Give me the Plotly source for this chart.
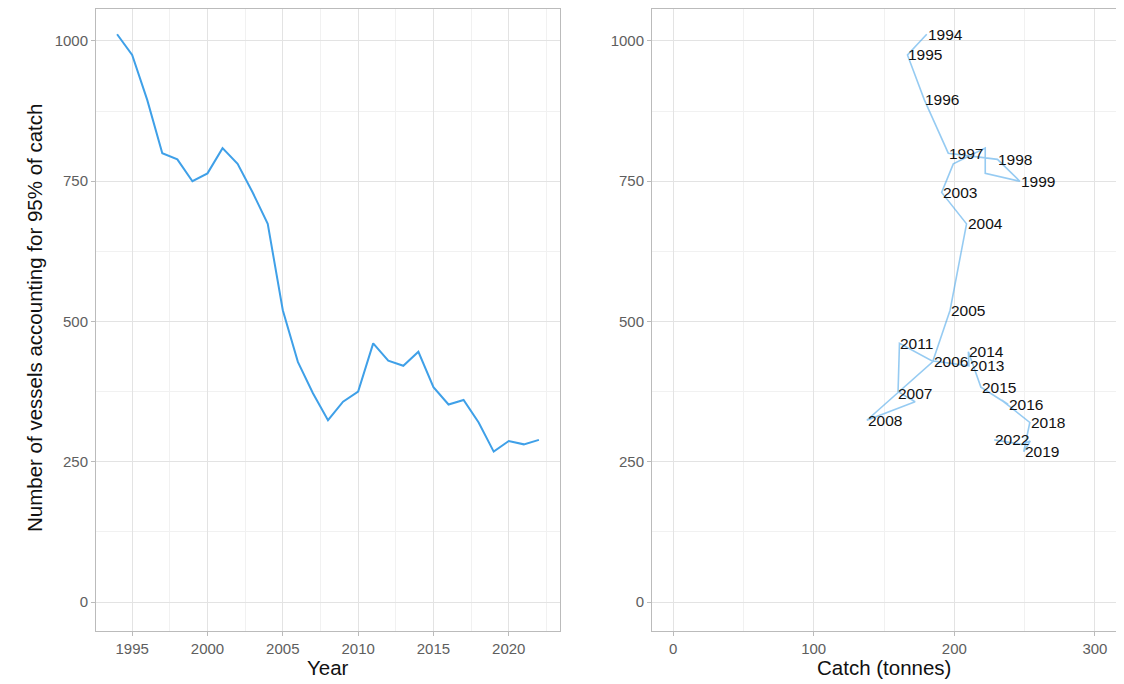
import plotly.graph_objects as go

years = list(range(1994, 2023))
vessels = [1012, 975, 895, 800, 789, 750, 764, 809, 781, 730, 674, 520, 428, 372, 324,
           357, 375, 461, 430, 421, 446, 383, 352, 360, 320, 268, 287, 281, 289]
catch = [180.4, 166.7, 178.7, 195.7, 230.7, 246.6, 222.0, 222.0, 199.3, 191.0, 208.7, 197.0, 184.6,
         159.1, 137.8, 172.1, 160.0, 161.0, 183.9, 210.4, 210.0, 218.9, 238.3, 233.6, 253.7,
         249.4, 254.0, 248.0, 228.4]
shown_labels = ["1994", "1995", "1996", "1997", "1998", "1999", "", "", "", "2003", "2004", "2005",
                "2006", "2007", "2008", "", "", "2011", "", "2013", "2014", "2015", "2016", "",
                "2018", "2019", "", "", "2022"]

x_ticks_left = [1995, 2000, 2005, 2010, 2015, 2020]
x_ticks_right = [0, 100, 200, 300]
y_ticks = [0, 250, 500, 750, 1000]

FONT = "Liberation Sans, Arial, Helvetica, sans-serif"
LINE = "#3FA0E8"
GRID = "#E3E3E3"
MINOR = "#F1F1F1"
BORDER = "#BBBBBB"

# page has an 8px body margin; figure is sized to fill the rest of the window
OFF = 8
W, H = 1124 - OFF, 684 - OFF


def px_x(p):
    return (p - OFF) / W


def px_y(p):
    return 1 - (p - OFF) / H


fig = go.Figure()
fig.add_trace(go.Scatter(x=years, y=vessels, mode="lines", line=dict(color=LINE, width=2),
                         xaxis="x", yaxis="y", showlegend=False))
fig.add_trace(go.Scatter(x=catch, y=vessels, mode="lines", line=dict(color="rgba(63,160,232,0.55)", width=1.6),
                         xaxis="x2", yaxis="y2", showlegend=False))

annotations = []
for c, v, l in zip(catch, vessels, shown_labels):
    if l:
        annotations.append(dict(text=l, x=c, y=v, xref="x2", yref="y2", showarrow=False,
                                xanchor="left", yanchor="middle", xshift=-1,
                                font=dict(family=FONT, size=15.5, color="#111111")))

xd1 = [px_x(96), px_x(560)]
xd2 = [px_x(652), px_x(1116)]
yd = [px_y(631), px_y(9)]
yrange = [-51.7, 1057]

common_axis = dict(showline=True, linecolor=BORDER, linewidth=1, mirror=True,
                   ticks="outside", ticklen=4, tickcolor=BORDER, tickwidth=1,
                   showgrid=True, gridcolor=GRID, gridwidth=1, zeroline=False,
                   tickfont=dict(family=FONT, size=15, color="#5E5E5E"))

TITLE_FONT = dict(family=FONT, size=20.5, color="#111111")
annotations += [
    dict(text="Year", x=(xd1[0] + xd1[1]) / 2, y=px_y(667), xref="paper", yref="paper",
         showarrow=False, font=TITLE_FONT, xanchor="center", yanchor="middle"),
    dict(text="Catch (tonnes)", x=(xd2[0] + xd2[1]) / 2, y=px_y(667), xref="paper", yref="paper",
         showarrow=False, font=TITLE_FONT, xanchor="center", yanchor="middle"),
    dict(text="Number of vessels accounting for 95% of catch", x=px_x(34), y=px_y(318),
         xref="paper", yref="paper", showarrow=False, textangle=-90,
         font=TITLE_FONT, xanchor="center", yanchor="middle"),
]

fig.update_layout(
    width=W, height=H, margin=dict(l=0, r=0, t=0, b=0),
    paper_bgcolor="white", plot_bgcolor="white",
    xaxis=dict(domain=xd1, range=[1992.6, 2023.4], tickvals=x_ticks_left, anchor="y",
               minor=dict(dtick=2.5, tick0=1992.5, showgrid=True, gridcolor=MINOR, gridwidth=1, ticks=""),
               **common_axis),
    yaxis=dict(domain=yd, range=yrange, tickvals=y_ticks, anchor="x",
               minor=dict(dtick=125, tick0=125, showgrid=True, gridcolor=MINOR, gridwidth=1, ticks=""),
               **common_axis),
    xaxis2=dict(domain=xd2, range=[-15, 315], tickvals=x_ticks_right, anchor="y2",
                minor=dict(dtick=50, tick0=50, showgrid=True, gridcolor=MINOR, gridwidth=1, ticks=""),
                **common_axis),
    yaxis2=dict(domain=yd, range=yrange, tickvals=y_ticks, anchor="x2",
                minor=dict(dtick=125, tick0=125, showgrid=True, gridcolor=MINOR, gridwidth=1, ticks=""),
                **common_axis),
    annotations=annotations,
)

fig.write_html("out.html")
